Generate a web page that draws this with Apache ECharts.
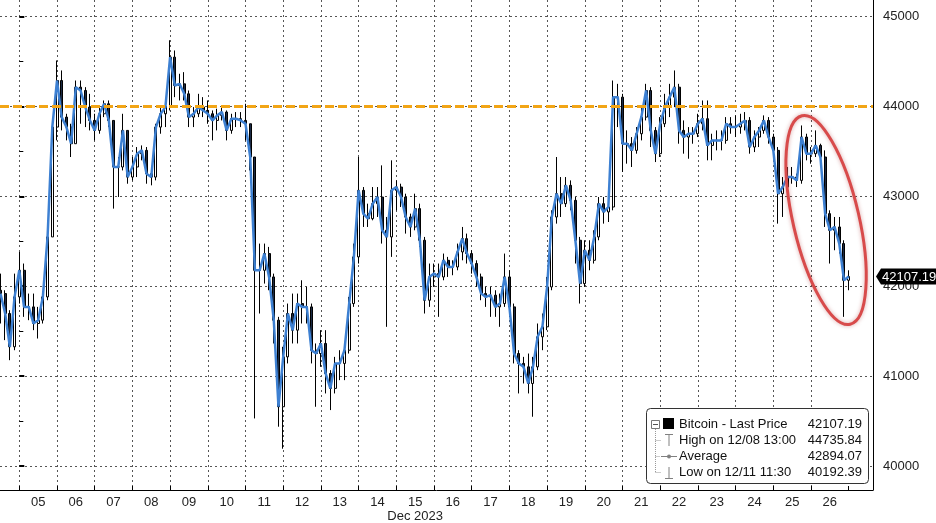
<!DOCTYPE html>
<html><head><meta charset="utf-8">
<script src="https://cdn.jsdelivr.net/npm/echarts@6/dist/echarts.min.js"></script>
<style>html,body{margin:0;padding:0;background:#fff}#c{width:936px;height:523px}</style>
</head><body><div id="c"></div>
<script>
// ---- data (Bitcoin price, 3-hour bars, hours from Dec 5 00:00) ----
const dayLabels = ['', '05','06','07','08','09','10','11','12','13','14','15','16','17','18','19','20','21','22','23','24','25','26'];
const monthLabel = 'Dec 2023';
const monthLabelUnder = '15';
const startHour = -12;   // Dec 4 12:00
const stepHours = 3;
const firstOpen = 41955;
const closes = [
41918,41696,41326,41881,42177,
41770,41770,41585,41622,41881,42548,43770,44288,
43881,43770,43585,44214,44177,43992,43844,43733,
43918,44029,43844,43326,43326,43733,43214,43326,
43474,43511,43252,43214,43770,43918,43992,44548,
44233,44251,44140,43881,43918,43992,43955,43918,
43844,43900,43937,43733,43863,43863,43844,43807,
43437,42177,42177,42363,42103,41622,40659,41214,
41696,41511,41807,41770,41770,41288,41251,41363,
41029,40863,41141,41141,41288,41807,42326,43066,
42807,42751,42918,42992,42622,42548,43066,43103,
42992,42770,42659,42863,42511,41844,42103,42140,
42103,42288,42214,42214,42381,42529,42363,42252,
42103,41918,41881,41900,41770,41807,42103,41770,
41251,41141,41103,40918,41103,41437,41548,41992,
42770,43029,42918,43122,42955,42511,42029,42400,
42288,42548,42918,42826,42881,44103,44103,43585,
43585,43511,43696,43881,44177,43733,43474,43807,
43992,44103,44214,43733,43659,43696,43696,43807,
43863,43566,43622,43622,43622,43807,43770,43770,
43807,43844,43548,43659,43733,43844,43659,43511,
43029,43103,43214,43214,43177,43659,43474,43474,
43566,43437,42807,42622,42659,42474,42066,42107.19
];
const highs = [
42140,41955,41733,42140,42381,
42252,41918,41918,41770,41918,42622,43844,44511,
44400,43918,43807,44288,44288,44214,44140,43918,
43992,44066,44066,43844,43437,43918,43733,43437,
43548,43566,43548,43326,43807,43992,44066,44735.84,
44622,44363,44381,44177,43992,44140,44103,44066,
43955,43974,44011,43955,43918,43937,43937,44029,
43807,43437,42474,42474,42437,42140,41659,41326,
41807,41918,41918,42066,41992,41807,41363,41511,
41511,41066,41214,41288,41363,41881,42474,43437,
43103,42918,43103,43103,43344,42770,43400,43177,
43140,43029,42807,43029,42918,42548,42252,42252,
42252,42363,42326,42288,42474,42659,42585,42400,
42288,42140,41992,41992,41955,41918,42363,42177,
41807,41288,41214,41251,41214,41585,41696,42103,
42844,43437,43214,43214,43177,42992,42548,42511,
42511,42622,42992,42992,42992,44288,44251,44140,
43733,43659,43770,43992,44251,44214,43770,43881,
44140,44251,44400,44251,43844,43770,43770,43918,
44066,44066,43696,43733,43733,43881,43881,43900,
43918,43937,43881,43733,43770,43900,43881,43696,
43548,43214,43326,43326,43252,43788,43696,43548,
43733,43585,43511,42844,42770,42770,42511,42177
];
const lows = [
41585,41400,41177,41288,41807,
41659,41622,41511,41418,41585,41844,42548,43622,
43733,43622,43437,43585,43807,43770,43733,43622,
43696,43881,43770,42863,42992,43288,43140,43177,
43214,43400,43140,43122,43177,43696,43770,43955,
44103,44066,44066,43770,43770,43881,43881,43807,
43622,43733,43844,43622,43696,43770,43770,43622,
43288,40529,41696,42029,41955,41363,40437,40192.39,
41141,41363,41363,41585,41585,41141,40659,41103,
40807,40622,40807,40955,40955,41251,41770,42252,
42659,42659,42733,42770,42474,41548,42326,42844,
42881,42585,42548,42622,42437,41696,41770,41992,
41659,42066,42103,42122,42177,42288,42252,42140,
41992,41844,41770,41659,41659,41548,41770,41659,
41141,40807,40918,40807,40548,41066,41288,41511,
41955,42696,42770,42881,42844,42252,41807,41992,
42177,42252,42511,42696,42714,42844,43770,43270,
43363,43326,43474,43622,43844,43548,43381,43437,
43770,43881,43992,43585,43474,43418,43585,43659,
43733,43400,43400,43511,43511,43585,43696,43659,
43696,43733,43474,43492,43548,43696,43585,43437,
42696,42770,43066,43140,43103,43140,43400,43363,
43437,43363,42659,42252,42400,42363,41659,41955
];
const resistanceLevel = 44000;
const lastPrice = 42107.19;
const yTicks = [40000, 41000, 42000, 43000, 44000, 45000];
const legendRows = [
  {label: 'Bitcoin - Last Price', value: '42107.19'},
  {label: 'High on 12/08 13:00',  value: '44735.84'},
  {label: 'Average',              value: '42894.07'},
  {label: 'Low on 12/11 11:30',   value: '40192.39'}
];
// annotation anchor (data coords): centre of the red ellipse
const ellipseAnchor = {hour: 513.6, price: 42737};

// ---- layout ----
const W = 936, H = 523;
const plotRight = 873, plotBottom = 490;
const dayPx = 37.7, day0Px = 19.3;          // px width of a day, px position of Dec 5 00:00
const xMin = -day0Px / dayPx * 24;
const xMax = (plotRight - day0Px) / dayPx * 24;
const FONT = '"Liberation Sans", Arial, sans-serif';

const hours = closes.map((_, i) => startHour + stepHours * i);
const opens = closes.map((c, i) => i === 0 ? firstOpen : closes[i - 1]);
const candleData = closes.map((c, i) => [hours[i], opens[i], c, lows[i], highs[i]]);
const lineData = closes.map((c, i) => [hours[i], c]);

const chart = echarts.init(document.getElementById('c'), null, {renderer: 'canvas'});
const dotted = {type: [2, 3], color: '#555', width: 1};

const option = {
  animation: false,
  backgroundColor: '#fff',
  textStyle: {fontFamily: FONT},
  grid: [
    {left: 0, right: W - plotRight, top: 16.5, bottom: H - 466, outerBoundsMode: 'none'},
    {left: day0Px - dayPx, width: dayPx * (dayLabels.length), top: 0, bottom: H - plotBottom, outerBoundsMode: 'none'},
    {left: 0, right: W - plotRight, top: 0, bottom: H - plotBottom, outerBoundsMode: 'none'}
  ],
  xAxis: [
    {type: 'value', gridIndex: 0, min: xMin, max: xMax, show: false},
    {type: 'category', gridIndex: 1, data: dayLabels, boundaryGap: true,
     axisLine: {show: false},
     axisTick: {show: true, inside: true, length: 4, lineStyle: {color: '#000'}},
     axisLabel: {interval: 0, color: '#222', fontSize: 13, margin: 5, lineHeight: 14, fontFamily: FONT,
       formatter: v => v === monthLabelUnder ? v + '\n' + monthLabel : v},
     splitLine: {show: true, showMinLine: false, showMaxLine: false, lineStyle: dotted}},
    {type: 'value', gridIndex: 2, min: 0, max: 1,
     axisLine: {show: true, onZero: false, lineStyle: {color: '#000', width: 1}},
     axisTick: {show: false}, axisLabel: {show: false}, splitLine: {show: false}}
  ],
  yAxis: [
    {type: 'value', gridIndex: 0, position: 'right', min: yTicks[0], max: yTicks[yTicks.length - 1], interval: 1000,
     axisLine: {show: false},
     axisTick: {show: true, length: 5, lineStyle: {color: '#000', width: 2}},
     minorTick: {show: true, splitNumber: 2, length: 4, lineStyle: {color: '#000', width: 1}},
     axisLabel: {color: '#222', fontSize: 13, margin: 10, fontFamily: FONT, formatter: v => String(v)},
     splitLine: {show: true, lineStyle: dotted}},
    {type: 'value', gridIndex: 1, show: false},
    {type: 'value', gridIndex: 2, position: 'right', min: 0, max: 1,
     axisLine: {show: true, onZero: false, lineStyle: {color: '#000', width: 1}},
     axisTick: {show: false}, axisLabel: {show: false}, splitLine: {show: false}}
  ],
  series: [
    {type: 'candlestick', name: 'Bitcoin', xAxisIndex: 0, yAxisIndex: 0,
     data: candleData, encode: {x: 0, y: [1, 2, 3, 4]}, barWidth: 2.5, z: 2,
     itemStyle: {color: '#ffffff', color0: '#1b2a44', borderColor: '#000000', borderColor0: '#000000', borderWidth: 1}},
    {type: 'line', name: 'Bitcoin - Last Price', xAxisIndex: 0, yAxisIndex: 0,
     data: lineData, showSymbol: false, z: 3,
     lineStyle: {color: '#3d80d2', width: 2.5},
     markLine: {silent: true, symbol: ['none', 'none'], z: 6,
       label: {show: false},
       lineStyle: {color: '#f2a516', width: 3, type: [9, 4]},
       data: [{yAxis: resistanceLevel}]}}
  ]
};
chart.setOption(option);

// ---- annotations ----
const ec = chart.convertToPixel({xAxisIndex: 0, yAxisIndex: 0}, [ellipseAnchor.hour, ellipseAnchor.price]);
const tagY = chart.convertToPixel({yAxisIndex: 0}, lastPrice);
const gray = '#808080';
const lx = 646.5, ly = 408.5, lw = 222, lh = 75;
const rowY = [424, 440.5, 456.5, 472.5];
const graphics = [
  {type: 'ellipse', x: ec[0], y: ec[1], rotation: 0.227, z: 20,
   shape: {cx: 0, cy: 0, rx: 33, ry: 107},
   style: {fill: 'none', stroke: '#d84b4b', lineWidth: 3, shadowBlur: 4, shadowColor: 'rgba(150,0,0,0.35)'}},
  {type: 'polygon', z: 30,
   shape: {points: [[plotRight + 3, tagY], [plotRight + 8, tagY - 8], [W, tagY - 8], [W, tagY + 8], [plotRight + 8, tagY + 8]]},
   style: {fill: '#000'}},
  {type: 'text', z: 31, x: plotRight + 9, y: tagY + 0.5,
   style: {text: lastPrice.toFixed(2), fill: '#fff', font: '13px ' + FONT, verticalAlign: 'middle', align: 'left'}},
  // legend box
  {type: 'rect', z: 40, shape: {x: lx, y: ly, width: lw, height: lh, r: 4},
   style: {fill: '#fff', stroke: '#333', lineWidth: 1}},
  // tree lines
  {type: 'line', z: 41, shape: {x1: 655.5, y1: 427, x2: 655.5, y2: rowY[3]}, style: {stroke: '#999', lineWidth: 1, lineDash: [1, 1]}},
  {type: 'line', z: 41, shape: {x1: 655.5, y1: rowY[1], x2: 661, y2: rowY[1]}, style: {stroke: '#999', lineWidth: 1, lineDash: [1, 1]}},
  {type: 'line', z: 41, shape: {x1: 655.5, y1: rowY[2], x2: 660, y2: rowY[2]}, style: {stroke: '#999', lineWidth: 1, lineDash: [1, 1]}},
  {type: 'line', z: 41, shape: {x1: 655.5, y1: rowY[3], x2: 661, y2: rowY[3]}, style: {stroke: '#999', lineWidth: 1, lineDash: [1, 1]}},
  {type: 'rect', z: 42, shape: {x: 651.5, y: 420.5, width: 8, height: 8}, style: {fill: '#fff', stroke: '#777', lineWidth: 1}},
  {type: 'line', z: 43, shape: {x1: 653, y1: 424.5, x2: 658, y2: 424.5}, style: {stroke: '#555', lineWidth: 1}},
  {type: 'rect', z: 42, shape: {x: 663, y: 418, width: 11, height: 11}, style: {fill: '#000'}},
  // high icon (T)
  {type: 'line', z: 42, shape: {x1: 665, y1: 434.5, x2: 673, y2: 434.5}, style: {stroke: gray, lineWidth: 1}},
  {type: 'line', z: 42, shape: {x1: 669, y1: 434.5, x2: 669, y2: 446}, style: {stroke: gray, lineWidth: 1}},
  // average icon
  {type: 'line', z: 42, shape: {x1: 661, y1: rowY[2], x2: 677, y2: rowY[2]}, style: {stroke: gray, lineWidth: 1}},
  {type: 'circle', z: 43, shape: {cx: 669, cy: rowY[2], r: 2}, style: {fill: gray}},
  // low icon (⊥)
  {type: 'line', z: 42, shape: {x1: 669, y1: 467, x2: 669, y2: 478.5}, style: {stroke: gray, lineWidth: 1}},
  {type: 'line', z: 42, shape: {x1: 665, y1: 478.5, x2: 673, y2: 478.5}, style: {stroke: gray, lineWidth: 1}}
];
legendRows.forEach((r, i) => {
  graphics.push({type: 'text', z: 44, x: 679, y: rowY[i],
    style: {text: r.label, fill: '#111', font: '13px ' + FONT, verticalAlign: 'middle', align: 'left'}});
  graphics.push({type: 'text', z: 44, x: 862, y: rowY[i],
    style: {text: r.value, fill: '#111', font: '13px ' + FONT, verticalAlign: 'middle', align: 'right'}});
});
chart.setOption({graphic: graphics});
</script>
</body></html>
